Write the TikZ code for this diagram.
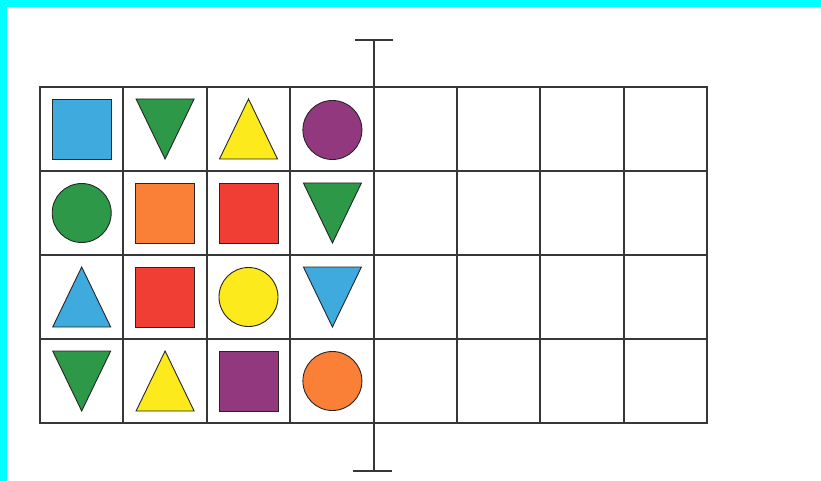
\documentclass[tikz,border=0pt]{standalone}
\definecolor{shblue}{RGB}{62,170,222}
\definecolor{shgreen}{RGB}{44,152,72}
\definecolor{shyellow}{RGB}{252,234,28}
\definecolor{shpurple}{RGB}{146,56,126}
\definecolor{shorange}{RGB}{250,128,56}
\definecolor{shred}{RGB}{240,62,52}
\definecolor{frame}{RGB}{0,255,255}
\definecolor{ink}{RGB}{55,55,55}
\newcommand{\ShSq}[3]{\filldraw[shp,fill=#3] ({#1-29.5},{#2-30}) rectangle ({#1+29.5},{#2+30});}
\newcommand{\ShDn}[3]{\filldraw[shp,fill=#3] ({#1-29},{#2-30}) -- ({#1+29},{#2-30}) -- ({#1},{#2+30}) -- cycle;}
\newcommand{\ShUp}[3]{\filldraw[shp,fill=#3] ({#1},{#2-30}) -- ({#1+29},{#2+30}) -- ({#1-29},{#2+30}) -- cycle;}
\newcommand{\ShCi}[3]{\filldraw[shp,fill=#3] (#1,#2) circle[radius=29.5];}
\begin{document}
\begin{tikzpicture}[x=1pt,y=-1pt,
  gridline/.style={draw=ink,line width=2pt,line cap=rect},
  shp/.style={draw=black!85,line width=0.9pt,line join=miter}]
\useasboundingbox (0,0) rectangle (821,481);
\fill[white] (0,0) rectangle (821,481);
\fill[frame] (0,0) rectangle (821,7);
\fill[frame] (0,0) rectangle (7,481);
% grid
\foreach \i in {0,...,8} {
  \draw[gridline] ({40+\i*83.375},87) -- ({40+\i*83.375},423);
}
\foreach \j in {0,...,4} {
  \draw[gridline] (40,{87+\j*84}) -- (707,{87+\j*84});
}
% axis
\coordinate (atop) at (374,40);
\coordinate (abot) at (374,471);
\draw[gridline,line cap=butt] (atop) -- (abot);
\draw[gridline,line cap=butt] (355,40) -- (393,40);
\draw[gridline,line cap=butt] (353,471) -- (392,471);
% row 1
\ShSq{81.7}{129}{shblue}
\ShDn{165.1}{129}{shgreen}
\ShUp{248.5}{129}{shyellow}
\ShCi{332.4}{130}{shpurple}
% row 2
\ShCi{81.7}{213}{shgreen}
\ShSq{165.1}{213}{shorange}
\ShSq{248.5}{213}{shred}
\ShDn{332.4}{213}{shgreen}
% row 3
\ShUp{81.7}{297}{shblue}
\ShSq{165.1}{297}{shred}
\ShCi{248.5}{297}{shyellow}
\ShDn{332.4}{297}{shblue}
% row 4
\ShDn{81.7}{381}{shgreen}
\ShUp{165.1}{381}{shyellow}
\ShSq{248.5}{381}{shpurple}
\ShCi{332.4}{381}{shorange}
\end{tikzpicture}
\end{document}
